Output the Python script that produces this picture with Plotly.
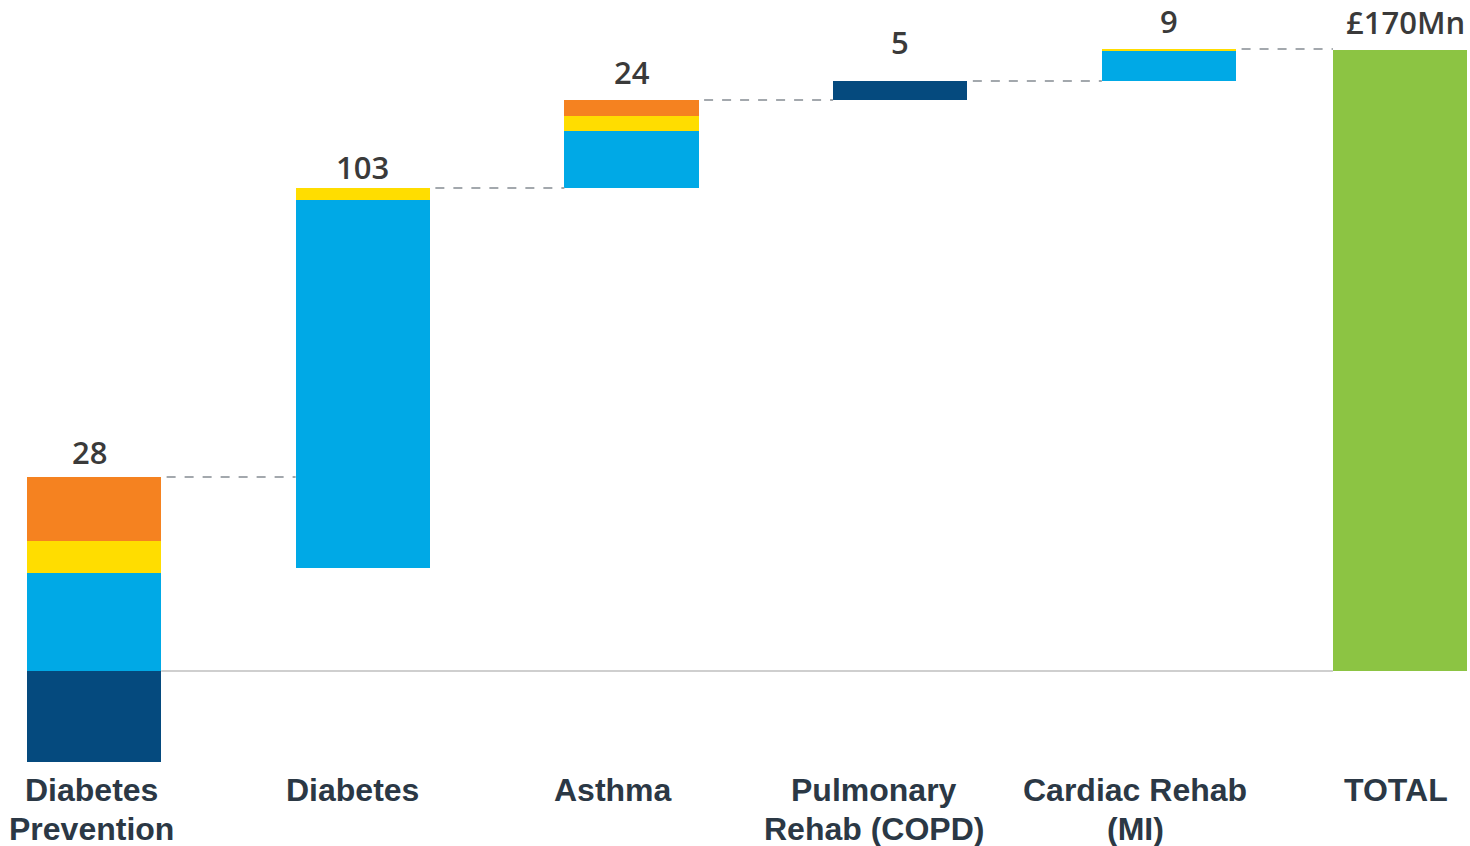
import plotly.graph_objects as go

# programme categories (x axis)
categories = ["Diabetes<br>Prevention", "Diabetes", "Asthma",
              "Pulmonary<br>Rehab (COPD)", "Cardiac Rehab<br>(MI)", "TOTAL"]

# stacked segments per programme, £Mn
navy = [-24.9, 0, 0, 5.2, 0, 0]
blue = [26.8, 100.7, 15.6, 0, 8.4, 0]
yellow = [8.8, 3.3, 4.1, 0, 0.4, 0]
orange = [17.5, 0, 4.4, 0, 0, 0]
green = [0, 0, 0, 0, 0, 170]

value_labels = ["28", "103", "24", "5", "9", "£170Mn"]

series = [
    ("navy", navy, "#054A7E"),
    ("blue", blue, "#00A9E6"),
    ("yellow", yellow, "#FFDD00"),
    ("orange", orange, "#F58220"),
    ("green", green, "#8CC443"),
]

# bar centres - the total bar sits a bit closer than the rest
xpos = [0, 1, 2, 3, 4, 4.86]
bar_w = 0.5
n = len(categories)

# waterfall start for each column (total starts at zero again)
starts = []
running = 0
for i in range(n):
    if i == n - 1:
        starts.append(0)
    else:
        starts.append(running)
        running += sum(s[1][i] for s in series)

pos_top = list(starts)
neg_bot = list(starts)
fig = go.Figure()
for name, vals, color in series:
    bases = []
    for i, v in enumerate(vals):
        if v >= 0:
            bases.append(pos_top[i])
            pos_top[i] += v
        else:
            bases.append(neg_bot[i])
            neg_bot[i] += v
    fig.add_trace(go.Bar(
        x=xpos, y=vals, base=bases, width=bar_w, name=name,
        marker=dict(color=color, line=dict(width=0)),
        hoverinfo="skip", showlegend=False,
    ))

# dashed connectors between tops of columns
for i in range(n - 1):
    fig.add_shape(type="line", xref="x", yref="y",
                  x0=xpos[i] + bar_w / 2 + 0.02, x1=xpos[i + 1] - bar_w / 2,
                  y0=pos_top[i], y1=pos_top[i],
                  line=dict(color="#A3A8AD", width=2, dash="dash"))

# zero line
fig.add_shape(type="line", xref="x", yref="y",
              x0=xpos[0] + bar_w / 2, x1=xpos[-1] - bar_w / 2, y0=0, y1=0,
              line=dict(color="#CFCFCF", width=2))

# value labels above the columns
label_shift = [2, -2, 5, 16, 5, 5]
for i in range(n):
    last = i == n - 1
    fig.add_annotation(x=xpos[i], y=pos_top[i], xref="x", yref="y",
                       text=value_labels[i], showarrow=False,
                       yanchor="bottom", yshift=label_shift[i],
                       xanchor="right" if last else "center",
                       xshift=67 if last else (-5 if i == 0 else 0),
                       font=dict(family="Open Sans", size=31, color="#3A3A3A", weight=600))

# category labels, evenly spaced along the bottom
for i, cat in enumerate(categories):
    for j, line in enumerate(cat.split("<br>")):
        fig.add_annotation(x=(91 + 261 * i) / 1470, y=1 - (790 + 39 * j) / 846,
                           xref="paper", yref="paper", text=line, showarrow=False,
                           xanchor="center", yanchor="middle",
                           font=dict(family="Liberation Sans, Arial", size=32,
                                     color="#2B3845", weight="bold"))

fig.update_layout(
    width=1470, height=846,
    margin=dict(l=0, r=0, t=0, b=0),
    plot_bgcolor="white", paper_bgcolor="white",
    barmode="overlay", bargap=0,
    xaxis=dict(range=[-0.35, 5.12], visible=False, fixedrange=True),
    yaxis=dict(range=[-47.9, 183.7], visible=False, fixedrange=True),
)

fig.write_html("out.html", config={"displayModeBar": False},
               post_script="document.body.style.margin='0';")
